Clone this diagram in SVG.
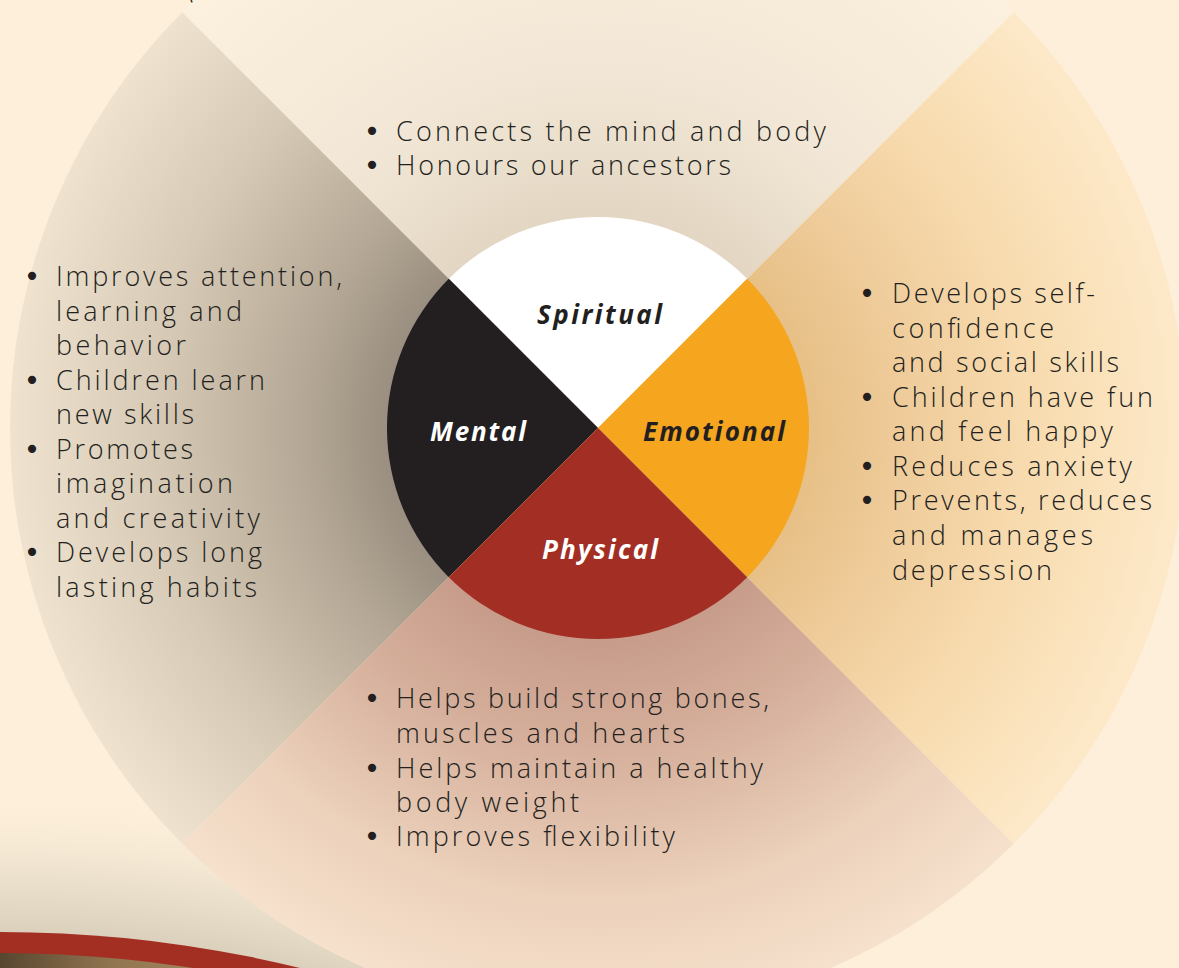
<svg xmlns="http://www.w3.org/2000/svg" width="1179" height="968" viewBox="0 0 1179 968">
<style>
.body{font-family:"Open Sans","Liberation Sans",sans-serif;font-weight:300;font-size:27px;fill:#231f20;}
.bul{font-family:"DejaVu Sans",sans-serif;font-size:28px;fill:#231f20;text-anchor:middle;}
.lbl{font-family:"Open Sans","Liberation Sans",sans-serif;font-weight:700;font-style:italic;font-size:26px;}
.dark{fill:#231f20;}
.light{fill:#ffffff;}
</style>
<defs>
<radialGradient id="gTop" gradientUnits="userSpaceOnUse" cx="598" cy="428" r="588">
<stop offset="0.36" stop-color="#e3d6c3"/><stop offset="0.6" stop-color="#f2e7d6"/><stop offset="1" stop-color="#fcf0de"/>
</radialGradient>
<radialGradient id="gLeft" gradientUnits="userSpaceOnUse" cx="598" cy="428" r="588">
<stop offset="0.36" stop-color="#9a8f80"/><stop offset="0.5" stop-color="#b4a795"/><stop offset="0.75" stop-color="#d6c9b5"/><stop offset="1" stop-color="#efe3cf"/>
</radialGradient>
<radialGradient id="gRight" gradientUnits="userSpaceOnUse" cx="598" cy="428" r="588">
<stop offset="0.36" stop-color="#e6c086"/><stop offset="0.5" stop-color="#eeca98"/><stop offset="0.75" stop-color="#f8dcb0"/><stop offset="1" stop-color="#fde9c9"/>
</radialGradient>
<radialGradient id="gBottom" gradientUnits="userSpaceOnUse" cx="598" cy="428" r="588">
<stop offset="0.36" stop-color="#c79c8a"/><stop offset="0.55" stop-color="#d6b09c"/><stop offset="0.8" stop-color="#ecd1bb"/><stop offset="1" stop-color="#f6e1cc"/>
</radialGradient>
<radialGradient id="gShadow" gradientUnits="userSpaceOnUse" cx="0" cy="2200" r="1410">
<stop offset="0.899" stop-color="#dbd0bb" stop-opacity="1"/><stop offset="0.94" stop-color="#ebe0cc" stop-opacity="0.9"/><stop offset="1" stop-color="#fdefda" stop-opacity="0"/>
</radialGradient>
<linearGradient id="gBrown" gradientUnits="userSpaceOnUse" x1="0" y1="0" x2="320" y2="0">
<stop offset="0" stop-color="#574630"/><stop offset="0.35" stop-color="#917550"/><stop offset="1" stop-color="#b39a72"/>
</linearGradient>
</defs>

<rect id="background" x="0" y="0" width="1179" height="968" fill="#fdefda"/>
<text class="body" x="190" y="-3">g</text>

<g id="lower-circle">
<circle cx="0" cy="2200" r="1410" fill="url(#gShadow)"/>
<circle cx="0" cy="2200" r="1268" fill="#a32e22"/>
<circle cx="0" cy="2200" r="1247" fill="url(#gBrown)"/>
</g>

<g id="spiritual">
<path d="M598,428 L182.2,12.2 A588,588 0 0 1 1013.8,12.2 Z" fill="url(#gTop)"/>
<path d="M598,428 L448.8,278.8 A211,211 0 0 1 747.2,278.8 Z" fill="#ffffff"/>
<text class="lbl dark" x="537" y="324" textLength="125" lengthAdjust="spacing">Spiritual</text>
<text class="bul" x="372" y="141">•</text>
<text class="bul" x="372" y="175">•</text>
<text class="body" x="396" y="141" textLength="430" lengthAdjust="spacing">Connects the mind and body</text>
<text class="body" x="396" y="175" textLength="335" lengthAdjust="spacing">Honours our ancestors</text>
</g>

<g id="mental">
<path d="M598,428 L182.2,12.2 A588,588 0 0 0 182.2,843.8 Z" fill="url(#gLeft)"/>
<path d="M598,428 L448.8,278.8 A211,211 0 0 0 448.8,577.2 Z" fill="#231f20"/>
<text class="lbl light" x="430" y="441" textLength="96" lengthAdjust="spacing">Mental</text>
<text class="bul" x="32" y="286">•</text>
<text class="bul" x="32" y="390">•</text>
<text class="bul" x="32" y="459">•</text>
<text class="bul" x="32" y="562">•</text>
<text class="body" x="56" y="286" textLength="286" lengthAdjust="spacing">Improves attention,</text>
<text class="body" x="56" y="321" textLength="186" lengthAdjust="spacing">learning and</text>
<text class="body" x="56" y="355" textLength="130" lengthAdjust="spacing">behavior</text>
<text class="body" x="56" y="390" textLength="209" lengthAdjust="spacing">Children learn</text>
<text class="body" x="56" y="424" textLength="138" lengthAdjust="spacing">new skills</text>
<text class="body" x="56" y="459" textLength="137" lengthAdjust="spacing">Promotes</text>
<text class="body" x="56" y="493" textLength="177" lengthAdjust="spacing">imagination</text>
<text class="body" x="56" y="528" textLength="204" lengthAdjust="spacing">and creativity</text>
<text class="body" x="56" y="562" textLength="206" lengthAdjust="spacing">Develops long</text>
<text class="body" x="56" y="597" textLength="201" lengthAdjust="spacing">lasting habits</text>
</g>

<g id="emotional">
<path d="M598,428 L1013.8,12.2 A588,588 0 0 1 1013.8,843.8 Z" fill="url(#gRight)"/>
<path d="M598,428 L747.2,278.8 A211,211 0 0 1 747.2,577.2 Z" fill="#f6a51f"/>
<text class="lbl dark" x="643" y="441" textLength="142" lengthAdjust="spacing">Emotional</text>
<text class="bul" x="867" y="303">•</text>
<text class="bul" x="867" y="407">•</text>
<text class="bul" x="867" y="476">•</text>
<text class="bul" x="867" y="510">•</text>
<text class="body" x="892" y="303" textLength="203" lengthAdjust="spacing">Develops self-</text>
<text class="body" x="892" y="338" textLength="162" lengthAdjust="spacing">confidence</text>
<text class="body" x="892" y="372" textLength="227" lengthAdjust="spacing">and social skills</text>
<text class="body" x="892" y="407" textLength="261" lengthAdjust="spacing">Children have fun</text>
<text class="body" x="892" y="441" textLength="221" lengthAdjust="spacing">and feel happy</text>
<text class="body" x="892" y="476" textLength="240" lengthAdjust="spacing">Reduces anxiety</text>
<text class="body" x="892" y="510" textLength="260" lengthAdjust="spacing">Prevents, reduces</text>
<text class="body" x="892" y="545" textLength="201" lengthAdjust="spacing">and manages</text>
<text class="body" x="892" y="580" textLength="160" lengthAdjust="spacing">depression</text>
</g>

<g id="physical">
<path d="M598,428 L182.2,843.8 A588,588 0 0 0 1013.8,843.8 Z" fill="url(#gBottom)"/>
<path d="M598,428 L448.8,577.2 A211,211 0 0 0 747.2,577.2 Z" fill="#a32f24"/>
<text class="lbl light" x="542" y="559" textLength="116" lengthAdjust="spacing">Physical</text>
<text class="bul" x="372" y="708">•</text>
<text class="bul" x="372" y="778">•</text>
<text class="bul" x="372" y="846">•</text>
<text class="body" x="396" y="708" textLength="373" lengthAdjust="spacing">Helps build strong bones,</text>
<text class="body" x="396" y="743" textLength="289" lengthAdjust="spacing">muscles and hearts</text>
<text class="body" x="396" y="778" textLength="367" lengthAdjust="spacing">Helps maintain a healthy</text>
<text class="body" x="396" y="812" textLength="183" lengthAdjust="spacing">body weight</text>
<text class="body" x="396" y="846" textLength="279" lengthAdjust="spacing">Improves flexibility</text>
</g>

<g id="connectors"></g>
</svg>
